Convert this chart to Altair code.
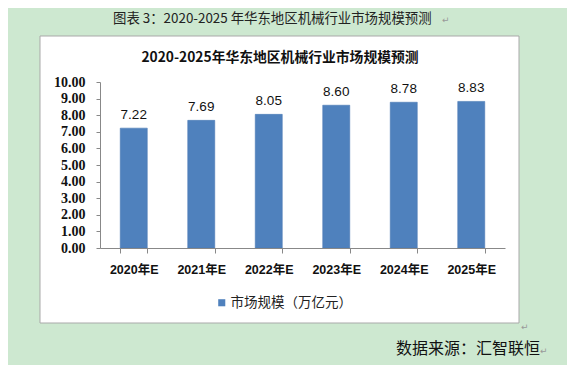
import altair as alt
import pandas as pd

years = ["2020年E", "2021年E", "2022年E", "2023年E", "2024年E", "2025年E"]
values = [7.22, 7.69, 8.05, 8.60, 8.78, 8.83]
series_name = "市场规模（万亿元）"
outer_title = "图表 3：2020-2025 年华东地区机械行业市场规模预测"
inner_title = "2020-2025年华东地区机械行业市场规模预测"
source_text = "数据来源：汇智联恒"
y_ticks = [0, 1, 2, 3, 4, 5, 6, 7, 8, 9, 10]

df = pd.DataFrame({"year": years, "value": values, "series": [series_name] * len(years)})

W, H = 405, 166
CJK = "Noto Sans CJK SC"
BLUE = "#4F81BD"

one = alt.Data(values=[{"a": 1}])

box = alt.Chart(one).mark_rect(fill="white", stroke="#A9A9A9", strokeWidth=1).encode(
    x=alt.value(-60), x2=alt.value(419), y=alt.value(-46), y2=alt.value(241)
)

x_enc = alt.X(
    "year:N", sort=years, title=None,
    scale=alt.Scale(paddingInner=0.6, paddingOuter=0.3),
    axis=alt.Axis(labelAngle=0, labelFont="Liberation Sans, " + CJK, labelFontWeight="bold",
                  labelFontSize=12.5, labelColor="#111", labelPadding=10, tickSize=5,
                  tickBand="extent", domainColor="#888888", tickColor="#888888",
                  labelBaseline="top", zindex=2),
)
y_enc = alt.Y(
    "value:Q", title=None,
    scale=alt.Scale(domain=[0, 10], nice=False),
    axis=alt.Axis(values=y_ticks, format=".2f", grid=False, labelFont="Liberation Serif",
                  labelFontWeight="bold", labelFontSize=14, labelColor="#111", labelPadding=11,
                  labelOverlap=False, labelFlush=False,
                  tickSize=4, domainColor="#888888", tickColor="#888888", zindex=2),
)

bars = alt.Chart(df).mark_bar(stroke="#4A7AB5", strokeWidth=0.6).encode(
    x=x_enc, y=y_enc,
    color=alt.Color("series:N", scale=alt.Scale(range=[BLUE]), title=None,
                    legend=alt.Legend(orient="none", legendX=115, legendY=214, symbolType="square",
                                      symbolSize=50, symbolStrokeWidth=0, labelFont=CJK,
                                      labelFontSize=13.5, labelColor="#222", labelOffset=2, padding=0,
                                      zindex=2)),
)

labels = alt.Chart(df).mark_text(dy=-13, baseline="middle", font="Liberation Sans", fontSize=13.5,
                                 color="#111").encode(
    x=x_enc, y=y_enc, text=alt.Text("value:Q", format=".2f")
)

def txt(s, x, y, size, weight="normal", align="center", color="#111", font=CJK):
    return alt.Chart(alt.Data(values=[{"t": s}])).mark_text(
        align=align, baseline="middle", fontSize=size, fontWeight=weight, color=color, font=font
    ).encode(x=alt.value(x), y=alt.value(y), text="t:N")

t_outer = txt(outer_title, 13, -63, 13.4, align="left", color="#222")
t_outer_mark = txt("↵", 342, -62, 9, align="left", color="#999", font="DejaVu Sans")
t_inner = txt(inner_title, 180, -24, 13.8, weight="bold", color="#111")
t_src = txt(source_text, 296, 267, 16, align="left", color="#111")
t_src_mark = txt("↵", 440, 269, 9, align="left", color="#999", font="DejaVu Sans")
t_box_mark = txt("↵", 421, 245, 9, align="left", color="#999", font="DejaVu Sans")

chart = alt.layer(
    box, bars, labels, t_outer, t_outer_mark, t_inner, t_src, t_src_mark, t_box_mark
).properties(
    width=W, height=H,
    autosize=alt.AutoSizeParams(type="none"),
    padding={"left": 92, "top": 74, "right": 62, "bottom": 117},
    background="#CDE8D0",
).configure_view(stroke=None)

chart.save("out.html", embed_options={"renderer": "svg", "actions": False})
